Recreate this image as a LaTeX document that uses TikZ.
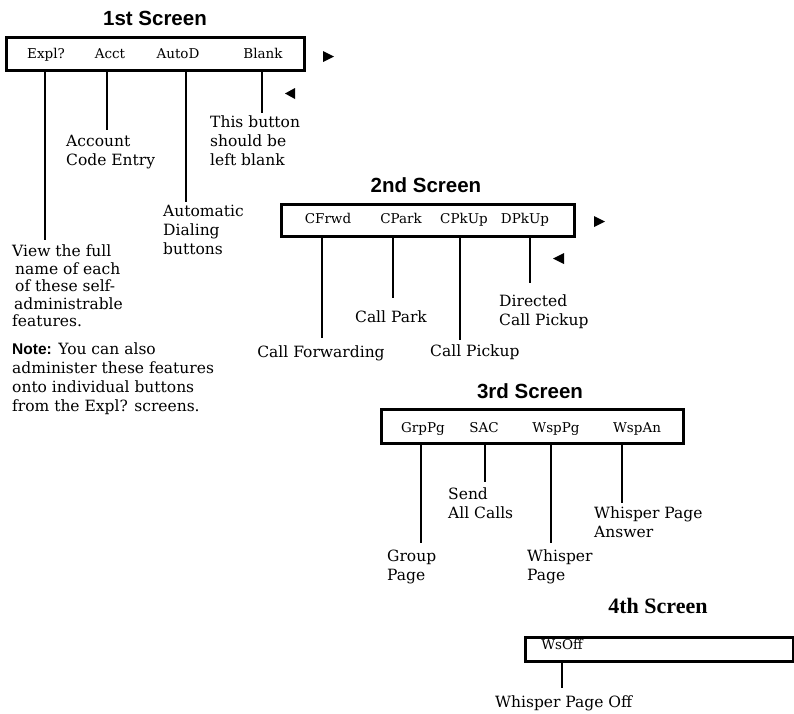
\documentclass[tikz,border=0pt]{standalone}
\usepackage{fontspec}
\setmainfont{DejaVu Serif}
\setsansfont{Liberation Sans}
\newfontfamily\headserif{Liberation Serif}
\usetikzlibrary{positioning, arrows.meta}

\begin{document}
\begin{tikzpicture}[x=1pt, y=-1pt,
  screen/.style={draw=black, line width=3.4pt, inner sep=0pt, anchor=north west},
  title/.style={font=\sffamily\bfseries\fontsize{20.5}{24}\selectfont, anchor=base},
  key/.style={font=\fontsize{13.5}{16}\selectfont, anchor=base, inner sep=0pt},
  desc/.style={font=\fontsize{15.5}{19}\selectfont, align=left, inner sep=0pt, anchor=north west},
  lead/.style={line width=2pt, shorten >=5pt}]
\useasboundingbox (0,0) rectangle (794,713);

% 1st screen
\node[title] (t1) at (155,25) {1st Screen};
\node[screen, minimum width=298, minimum height=33] (scr1) at (5,36) {};
\node[key] (expl)  at (46,58)  {Expl?};
\node[key] (acct)  at (110,58) {Acct};
\node[key] (autod) at (178,58) {AutoD};
\node[key] (blank) at (263,58) {Blank};
\fill (323,51) -- (334,56.5) -- (323,62) -- cycle;
\fill (295,88) -- (285,93.5) -- (295,99) -- cycle;

\node[desc] (blanktxt) at (210,116) {This button\\should be\\left blank};
\node[desc] (accttxt)  at (66,135)  {Account\\Code Entry};
\node[desc] (autotxt)  at (163,205) {Automatic\\Dialing\\buttons};
\node[desc, font=\fontsize{15.5}{17.5}\selectfont] (viewtxt) at (12,245)
  {View the full\\\hspace{3pt}name of each\\\hspace{3pt}of these self-\\\hspace{2pt}administrable\\features.};
\node[desc, font=\fontsize{15.5}{18.7}\selectfont] (notetxt) at (12,343)
  {{\sffamily\bfseries Note:} You can also\\administer these features\\onto individual buttons\\from the Expl? screens.};

\draw[lead] ([xshift=-1pt]expl.south |- scr1.south) -- ([xshift=-1pt]expl.south |- viewtxt.north);
\draw[lead] ([xshift=-3pt]acct.south |- scr1.south) -- ([xshift=-3pt]acct.south |- accttxt.north);
\draw[lead, shorten >=3pt] ([xshift=8pt]autod.south |- scr1.south) -- ([xshift=8pt]autod.south |- autotxt.north);
\draw[lead, shorten >=3pt] ([xshift=-1pt]blank.south |- scr1.south) -- ([xshift=-1pt]blank.south |- blanktxt.north);

% 2nd screen
\node[title] (t2) at (426,192) {2nd Screen};
\node[screen, minimum width=293, minimum height=32] (scr2) at (280,203) {};
\node[key] (cfrwd) at (328,223) {CFrwd};
\node[key] (cpark) at (401,223) {CPark};
\node[key] (cpkup) at (464,223) {CPkUp};
\node[key] (dpkup) at (525,223) {DPkUp};
\fill (594,216) -- (605,221.5) -- (594,227) -- cycle;
\fill (564,253) -- (553,258.5) -- (564,264) -- cycle;

\node[key, font=\fontsize{15.5}{19}\selectfont] (cfrwdtxt) at (321,357) {Call Forwarding};
\node[key, font=\fontsize{15.5}{19}\selectfont] (cparktxt) at (391,322) {Call Park};
\node[desc] (cpkuptxt) at (430,345) {Call Pickup};
\node[desc] (dpkuptxt) at (499,295) {Directed\\Call Pickup};

\draw[lead, shorten >=7pt] ([xshift=-6pt]cfrwd.south |- scr2.south) -- ([xshift=-6pt]cfrwd.south |- cfrwdtxt.north);
\draw[lead, shorten >=12pt] ([xshift=-8pt]cpark.south |- scr2.south) -- ([xshift=-8pt]cpark.south |- cparktxt.north);
\draw[lead] ([xshift=-4pt]cpkup.south |- scr2.south) -- ([xshift=-4pt]cpkup.south |- cpkuptxt.north);
\draw[lead, shorten >=12pt] ([xshift=5pt]dpkup.south |- scr2.south) -- ([xshift=5pt]dpkup.south |- dpkuptxt.north);

% 3rd screen
\node[title] (t3) at (530,398) {3rd Screen};
\node[screen, minimum width=302, minimum height=34] (scr3) at (380,408) {};
\node[key] (grppg) at (423,432) {GrpPg};
\node[key] (sac)   at (484,432) {SAC};
\node[key] (wsppg) at (556,432) {WspPg};
\node[key] (wspan) at (637,432) {WspAn};

\node[desc] (grptxt) at (387,550) {Group\\Page};
\node[desc] (sactxt) at (448,488) {Send\\All Calls};
\node[desc] (wsptxt) at (527,550) {Whisper\\Page};
\node[desc] (wantxt) at (594,507) {Whisper Page\\Answer};

\draw[lead, shorten >=7pt] ([xshift=-2pt]grppg.south |- scr3.south) -- ([xshift=-2pt]grppg.south |- grptxt.north);
\draw[lead, shorten >=6pt] ([xshift=1pt]sac.south |- scr3.south) -- ([xshift=1pt]sac.south |- sactxt.north);
\draw[lead, shorten >=7pt] ([xshift=-5pt]wsppg.south |- scr3.south) -- ([xshift=-5pt]wsppg.south |- wsptxt.north);
\draw[lead, shorten >=4pt] ([xshift=-15pt]wspan.south |- scr3.south) -- ([xshift=-15pt]wspan.south |- wantxt.north);

% 4th screen
\node[title, font=\headserif\bfseries\fontsize{22}{26}\selectfont] (t4) at (658,613) {4th Screen};
\node[screen, minimum width=268, minimum height=24] (scr4) at (524,636) {};
\node[key] (wsoff) at (562,649) {WsOff};
\node[desc] (wsofftxt) at (495,696) {Whisper Page Off};
\draw[lead, shorten >=8pt] (wsoff.south |- scr4.south) -- (wsoff.south |- wsofftxt.north);
\end{tikzpicture}
\end{document}
